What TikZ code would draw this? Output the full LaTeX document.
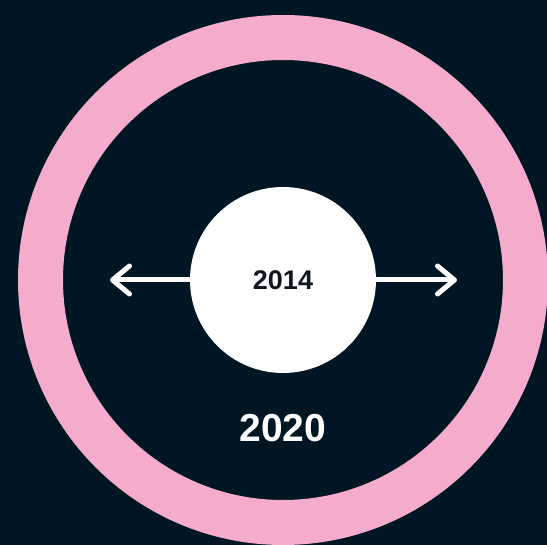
\documentclass[tikz,border=0pt]{standalone}
\usepackage{fontspec}
\setmainfont{Liberation Sans}
\usetikzlibrary{arrows.meta}
\definecolor{bg}{HTML}{011624}
\definecolor{ringpink}{HTML}{F4ABCC}
\definecolor{txtdark}{HTML}{0E1823}
\tikzset{
  arrowline/.style={white, line width=5pt, line cap=round,
    -{Straight Barb[length=17pt, width=28pt, line cap=round, line join=round]}},
  hub/.style={circle, fill=white, minimum size=186pt, inner sep=0pt},
}
\begin{document}
\begin{tikzpicture}[x=1pt,y=-1pt]
\fill[bg] (0,0) rectangle (547,545);
\useasboundingbox (0,0) rectangle (547,545);
\coordinate (o) at (283,280);
\draw[ringpink, line width=45pt] (o) circle[radius=242.5pt];
\node[hub] (c) at (o) {};
\node[font=\bfseries\fontsize{27}{31}\selectfont, text=txtdark] (t14) at (o) {2014};
\coordinate (l) at (110,280);
\coordinate (r) at (457,280);
\draw[arrowline] (c.east) -- (r);
\draw[arrowline] (c.west) -- (l);
\node[font=\bfseries\fontsize{39}{45}\selectfont, text=white] (t20) at (283,428) {2020};
\end{tikzpicture}
\end{document}
